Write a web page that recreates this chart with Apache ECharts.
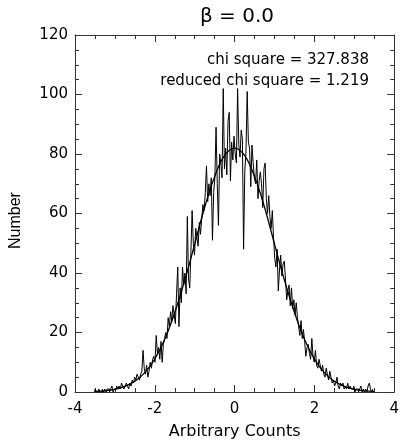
<!DOCTYPE html>
<html>
<head>
<meta charset="utf-8">
<script src="https://cdn.jsdelivr.net/npm/echarts@6/dist/echarts.min.js"></script>
<style>
html,body{margin:0;padding:0;background:#fff;}
#chart{width:402px;height:445px;}
</style>
</head>
<body>
<div id="chart"></div>
<script>
// Histogram bins
const binStart = -3.51;
const binWidth = 0.03;
const counts = [
  0,1,0,0,1,0,0,1,0,1,
  0,1,1,0,1,2,0,1,1,2,
  1,2,1,3,2,1,2,3,2,1,
  3,2,4,3,5,4,6,5,4,6,
  7,14,8,6,9,5,7,10,8,11,
  12,10,19,13,15,11,17,10,16,18,
  20,18,25,22,27,24,29,26,23,33,
  42,22,35,30,42,36,40,33,59,38,
  35,47,61,50,46,55,52,49,57,53,
  58,63,61,67,76,64,70,66,72,51,
  67,72,89,70,56,80,77,72,102,75,
  82,73,91,94,71,84,78,86,80,77,
  102,83,79,88,85,48,74,81,101,84,
  82,69,83,77,72,70,78,65,71,74,
  70,62,75,77,65,60,66,59,55,61,
  52,45,42,48,34,41,46,39,43,44,
  38,31,34,36,29,35,28,31,26,30,
  25,22,19,24,18,21,17,12,15,16,
  13,11,18,12,10,14,9,8,11,9,
  7,9,6,5,8,6,4,7,5,3,
  4,2,3,5,2,1,3,2,3,1,
  2,1,3,1,2,1,1,2,0,1,
  1,0,1,2,0,1,0,1,0,2,
  3,1,0,1
];
// Fitted curve
const fitX = [-3.5,-3.25,-3,-2.75,-2.5,-2.25,-2,-1.75,-1.5,-1.25,-1,-0.75,-0.5,-0.25,0,
              0.25,0.5,0.75,1,1.25,1.5,1.75,2,2.25,2.5,2.75,3,3.25,3.5];
const fitY = [0.2,0.4,0.9,1.9,3.6,6.5,11.1,17.7,26.7,37.5,49.7,62.1,72.4,79.5,82,
              79.5,72.4,62.1,49.7,37.5,26.7,17.7,11.1,6.5,3.6,1.9,0.9,0.4,0.2];
const xTicks = {min:-4, max:4, interval:2};
const yTicks = {min:0, max:120, interval:20};
const titleText = 'β = 0.0';
const notes = ['chi square = 327.838', 'reduced chi square = 1.219'];

const histData = counts.map((c, i) => [+(binStart + i * binWidth).toFixed(3), c]);
const fitData = fitX.map((x, i) => [x, fitY[i]]);

const FONT = 'DejaVu Sans';
const axisColor = '#333';

function xAx(pos, show) {
  return {
    type: 'value', position: pos, min: xTicks.min, max: xTicks.max, interval: xTicks.interval,
    axisLine: {show: true, onZero: false, lineStyle: {color: axisColor, width: 1}},
    axisTick: {show: true, inside: true, length: 7, lineStyle: {color: axisColor}},
    minorTick: {show: true, splitNumber: 4, length: 4, lineStyle: {color: axisColor}},
    splitLine: {show: false},
    axisLabel: {show: show, color: '#000', fontSize: 15, fontFamily: FONT, margin: 10, showMaxLabel: true, showMinLabel: true},
    name: show ? 'Arbitrary Counts' : '', nameLocation: 'middle', nameGap: 32,
    nameTextStyle: {color: '#000', fontSize: 16, fontFamily: FONT}
  };
}
function yAx(pos, show) {
  return {
    type: 'value', position: pos, min: yTicks.min, max: yTicks.max, interval: yTicks.interval,
    axisLine: {show: true, onZero: false, lineStyle: {color: axisColor, width: 1}},
    axisTick: {show: true, inside: true, length: 7, lineStyle: {color: axisColor}},
    minorTick: {show: true, splitNumber: 4, length: 4, lineStyle: {color: axisColor}},
    splitLine: {show: false},
    axisLabel: {show: show, color: '#000', fontSize: 15, fontFamily: FONT, margin: 7},
    name: show ? 'Number' : '', nameLocation: 'middle', nameGap: 51, nameRotate: 90,
    nameTextStyle: {color: '#000', fontSize: 16, fontFamily: 'Liberation Sans', padding: [0, 0, 0, -14]}
  };
}

const chart = echarts.init(document.getElementById('chart'), null, {renderer: 'canvas'});
chart.setOption({
  animation: false,
  backgroundColor: '#fff',
  grid: {left: 75, right: 5, top: 35, bottom: 52, containLabel: false},
  xAxis: [xAx('bottom', true), xAx('top', false)],
  yAxis: [yAx('left', true), yAx('right', false)],
  graphic: [
    {type: 'text', x: 237, y: 17,
     style: {text: titleText, fontSize: 20, fontFamily: FONT, fill: '#000', align: 'center', verticalAlign: 'middle'}},
    {type: 'text', x: 369, y: 60,
     style: {text: notes[0], fontSize: 15, fontFamily: FONT, fill: '#000', align: 'right', verticalAlign: 'middle'}},
    {type: 'text', x: 369, y: 81,
     style: {text: notes[1], fontSize: 15, fontFamily: FONT, fill: '#000', align: 'right', verticalAlign: 'middle'}}
  ],
  series: [
    {type: 'line', data: histData, step: 'middle', showSymbol: false, silent: true,
     lineStyle: {color: '#000', width: 1}, z: 2},
    {type: 'line', data: fitData, smooth: 0.4, showSymbol: false, silent: true,
     lineStyle: {color: '#000', width: 1.3}, z: 3}
  ]
});
</script>
</body>
</html>
